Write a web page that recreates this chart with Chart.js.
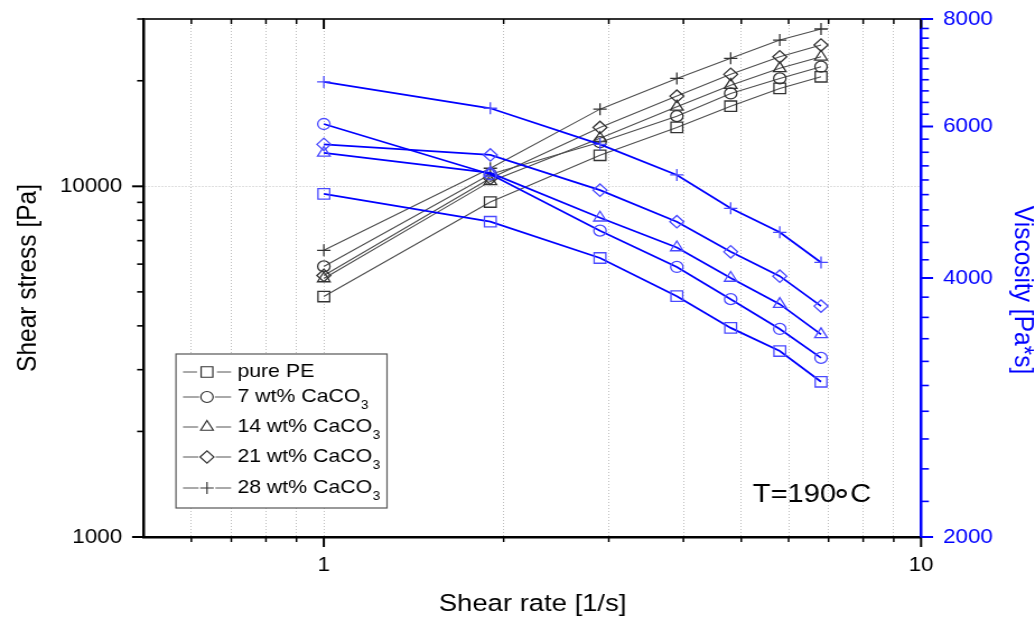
<!DOCTYPE html>
<html>
<head>
<meta charset="utf-8">
<script src="https://cdn.jsdelivr.net/npm/chart.js@4.4.1/dist/chart.umd.min.js"></script>
<style>
  html, body { margin: 0; padding: 0; background: #fff; overflow: hidden; }
  #wrap { width: 1035px; height: 620px; overflow: hidden; }
  /* the original figure is stretched sideways, so the canvas is too */
  #c { display: block; transform: scaleX(1.1201); transform-origin: 0 0; }
</style>
</head>
<body>
<div id="wrap"><canvas id="c" width="924" height="620"></canvas></div>
<script>
// shear rate [1/s]
const shearRate = [1, 1.9, 2.9, 3.9, 4.8, 5.8, 6.8];

// shear stress [Pa] (left axis)
const stressPE = [4850, 9020, 12260, 14720, 16920, 19020, 20530];
const stress7 = [5910, 10820, 13360, 15850, 18400, 20310, 21930];
const stress14 = [5460, 10330, 13710, 16850, 19430, 21700, 23410];
const stress21 = [5570, 10540, 14720, 18080, 20860, 23410, 25280];
const stress28 = [6570, 11260, 16600, 20310, 23170, 26130, 28090];

// viscosity [Pa*s] (right axis)
const viscPE = [5010, 4650, 4220, 3810, 3500, 3290, 3030];
const visc7 = [6040, 5280, 4540, 4120, 3780, 3490, 3230];
const visc14 = [5590, 5300, 4700, 4340, 4000, 3730, 3440];
const visc21 = [5720, 5560, 5060, 4650, 4290, 4020, 3710];
const visc28 = [6760, 6300, 5720, 5270, 4820, 4520, 4170];

const seriesNames = ["pure PE", "7 wt% CaCO", "14 wt% CaCO", "21 wt% CaCO", "28 wt% CaCO"];
const seriesSub = ["", "3", "3", "3", "3"];

// ticks
const xTicks = [0.6, 0.7, 0.8, 0.9, 1, 2, 3, 4, 5, 6, 7, 8, 9, 10];
const xLabels = [1, 10];
const stressTicks = [1000, 2000, 3000, 4000, 5000, 6000, 7000, 8000, 9000, 10000, 20000, 30000];
const stressLabels = [1000, 10000];
const viscLabels = [2000, 4000, 6000, 8000];
const viscTicks = [];
for (let v = 2000; v <= 8000; v += 200) viscTicks.push(v);

const FONT = '"Liberation Sans", Arial, Helvetica, sans-serif';
const BLUE = '#0000ff';

const shapes = ['rect', 'circle', 'triangle', 'rectRot', 'cross'];
const radii = [7.4, 5.5, 6.5, 6.2, 6];

const stressSets = [stressPE, stress7, stress14, stress21, stress28];
const viscSets = [viscPE, visc7, visc14, visc21, visc28];

const pts = ys => shearRate.map((x, i) => ({ x: x, y: ys[i] }));

const datasets = [];
viscSets.forEach((ys, i) => {
  datasets.push({
    label: seriesNames[i] + seriesSub[i] + ' viscosity',
    data: pts(ys),
    yAxisID: 'y1',
    borderColor: BLUE,
    borderWidth: 1.8,
    pointStyle: shapes[i],
    pointRadius: radii[i],
    pointBorderColor: '#4a4aff',
    pointBorderWidth: 1.3,
    pointBackgroundColor: 'rgba(0,0,0,0)',
    tension: 0
  });
});
stressSets.forEach((ys, i) => {
  datasets.push({
    label: seriesNames[i] + seriesSub[i],
    data: pts(ys),
    yAxisID: 'y',
    borderColor: '#4d4d4d',
    borderWidth: 1.1,
    pointStyle: shapes[i],
    pointRadius: radii[i],
    pointBorderColor: '#333',
    pointBorderWidth: 1.3,
    pointBackgroundColor: 'rgba(0,0,0,0)',
    tension: 0
  });
});

const dotted = 'rgba(0,0,0,0.25)';

// fixed box sizes so the plot area lands where the original's does
const fixBox = (w, h) => s => {
  if (w !== null) s.width = w;
  if (h !== null) s.height = h;
  s.paddingTop = 0; s.paddingBottom = 0; s.paddingLeft = 0; s.paddingRight = 0;
};

// tick marks, top frame, legend, annotation and right title
const decorations = {
  id: 'decorations',
  afterDraw(chart) {
    const { ctx, chartArea: a, scales } = chart;
    ctx.save();

    // top frame line
    ctx.strokeStyle = '#333';
    ctx.lineWidth = 2;
    ctx.beginPath();
    ctx.moveTo(a.left, a.top);
    ctx.lineTo(a.right, a.top);
    ctx.stroke();

    // x ticks: out at bottom, in at top
    ctx.strokeStyle = '#000';
    xTicks.forEach(v => {
      const px = scales.x.getPixelForValue(v);
      const major = xLabels.includes(v);
      const len = major ? 10 : 5;
      ctx.lineWidth = major ? 2 : 1.5;
      ctx.beginPath();
      ctx.moveTo(px, a.bottom);
      ctx.lineTo(px, a.bottom + len);
      ctx.moveTo(px, a.top);
      ctx.lineTo(px, a.top + len);
      ctx.stroke();
    });

    // left ticks
    stressTicks.forEach(v => {
      const py = scales.y.getPixelForValue(v);
      const major = stressLabels.includes(v);
      ctx.lineWidth = major ? 2 : 1.6;
      ctx.beginPath();
      ctx.moveTo(a.left, py);
      ctx.lineTo(a.left - (major ? 10.7 : 6.2), py);
      ctx.stroke();
    });

    // right ticks (blue)
    ctx.strokeStyle = BLUE;
    viscTicks.forEach(v => {
      const py = scales.y1.getPixelForValue(v);
      const major = viscLabels.includes(v);
      ctx.lineWidth = major ? 2 : 1.6;
      ctx.beginPath();
      ctx.moveTo(a.right, py);
      ctx.lineTo(a.right + (major ? 10.7 : 7), py);
      ctx.stroke();
    });

    // right axis title
    ctx.save();
    ctx.translate(912.4, 290);
    ctx.rotate(Math.PI / 2);
    ctx.fillStyle = BLUE;
    ctx.font = '24.5px ' + FONT;
    ctx.textAlign = 'center';
    ctx.textBaseline = 'middle';
    ctx.fillText('Viscosity [Pa*s]', 0, 0);
    ctx.restore();

    // legend
    const box = { x1: 157.1, x2: 345.5, y1: 354, y2: 508 };
    ctx.fillStyle = '#fff';
    ctx.fillRect(box.x1, box.y1, box.x2 - box.x1, box.y2 - box.y1);
    ctx.strokeStyle = '#555';
    ctx.lineWidth = 1.2;
    ctx.strokeRect(box.x1, box.y1, box.x2 - box.x1, box.y2 - box.y1);

    const rows = [372, 397, 427, 457, 488];
    const mx = 184.8;
    rows.forEach((ry, i) => {
      const r = radii[i];
      ctx.strokeStyle = '#555';
      ctx.lineWidth = 1;
      ctx.beginPath();
      ctx.moveTo(163.4, ry);
      ctx.lineTo(mx - r - 1.5, ry);
      ctx.moveTo(mx + r + 1.5, ry);
      ctx.lineTo(206.3, ry);
      ctx.stroke();

      ctx.strokeStyle = '#333';
      ctx.fillStyle = 'rgba(0,0,0,0)';
      ctx.lineWidth = 1.2;
      Chart.helpers.drawPoint(ctx, { pointStyle: shapes[i], radius: r, rotation: 0, borderWidth: 1.2 }, mx, ry);

      ctx.fillStyle = '#000';
      ctx.font = '19px ' + FONT;
      ctx.textAlign = 'left';
      ctx.textBaseline = 'middle';
      ctx.fillText(seriesNames[i], 211.9, ry);
      if (seriesSub[i]) {
        const w = ctx.measureText(seriesNames[i]).width;
        ctx.font = '12px ' + FONT;
        ctx.fillText(seriesSub[i], 211.9 + w + 0.5, ry + 8.5);
      }
    });

    // temperature note: "T=190", ring, "C" set tight like the original
    ctx.fillStyle = '#000';
    ctx.textBaseline = 'middle';
    ctx.font = '26px ' + FONT;
    ctx.textAlign = 'left';
    const tx = 672, ty = 494.5;
    const w1 = ctx.measureText('T=190').width;
    ctx.fillText('T=190', tx, ty);
    ctx.font = '30px ' + FONT;
    ctx.textAlign = 'center';
    ctx.fillText('\u2218', tx + w1 + 5, ty);
    ctx.font = '26px ' + FONT;
    ctx.textAlign = 'left';
    ctx.fillText('C', tx + w1 + 12.5, ty);

    ctx.restore();
  }
};

new Chart(document.getElementById('c'), {
  type: 'line',
  data: { datasets: datasets },
  options: {
    responsive: false,
    animation: false,
    events: [],
    layout: { padding: { top: 19, left: 0, right: 0, bottom: 0 } },
    plugins: { legend: { display: false }, tooltip: { enabled: false } },
    scales: {
      x: {
        type: 'logarithmic',
        position: 'bottom',
        min: 0.5,
        max: 10,
        afterFit: fixBox(null, 83),
        afterBuildTicks: s => { s.ticks = xTicks.map(v => ({ value: v })); },
        ticks: {
          autoSkip: false,
          maxRotation: 0,
          padding: 16,
          color: '#000',
          font: { family: FONT, size: 20 },
          callback: v => (xLabels.includes(v) ? String(v) : '')
        },
        grid: { color: dotted, lineWidth: 1, drawTicks: false },
        border: { color: '#000', width: 2.5, dash: [1, 2] },
        title: {
          display: true,
          text: 'Shear rate [1/s]',
          color: '#000',
          font: { family: FONT, size: 24.5 },
          padding: { top: 0, bottom: 1 }
        }
      },
      y: {
        type: 'logarithmic',
        position: 'left',
        min: 1000,
        max: 30000,
        afterFit: fixBox(128.6, null),
        afterBuildTicks: s => { s.ticks = stressTicks.map(v => ({ value: v })); },
        ticks: {
          autoSkip: false,
          padding: 19.6,
          color: '#000',
          font: { family: FONT, size: 20 },
          callback: v => (stressLabels.includes(v) ? String(v) : '')
        },
        grid: {
          drawTicks: false,
          lineWidth: 1,
          color: c => (c.tick && c.tick.value === 10000 ? dotted : 'rgba(0,0,0,0)')
        },
        border: { color: '#000', width: 2.5, dash: [1, 2] },
        title: {
          display: true,
          text: 'Shear stress [Pa]',
          color: '#000',
          font: { family: FONT, size: 24.5 },
          padding: { top: 10.6, bottom: 0 }
        }
      },
      y1: {
        type: 'logarithmic',
        position: 'right',
        min: 2000,
        max: 8000,
        afterFit: fixBox(101.7, null),
        afterBuildTicks: s => { s.ticks = viscTicks.map(v => ({ value: v })); },
        ticks: {
          autoSkip: false,
          padding: 19.7,
          color: BLUE,
          font: { family: FONT, size: 20 },
          callback: v => (viscLabels.includes(v) ? String(v) : '')
        },
        grid: { display: false, drawTicks: false },
        border: { color: BLUE, width: 2.5 }
      }
    }
  },
  plugins: [decorations]
});
</script>
</body>
</html>
